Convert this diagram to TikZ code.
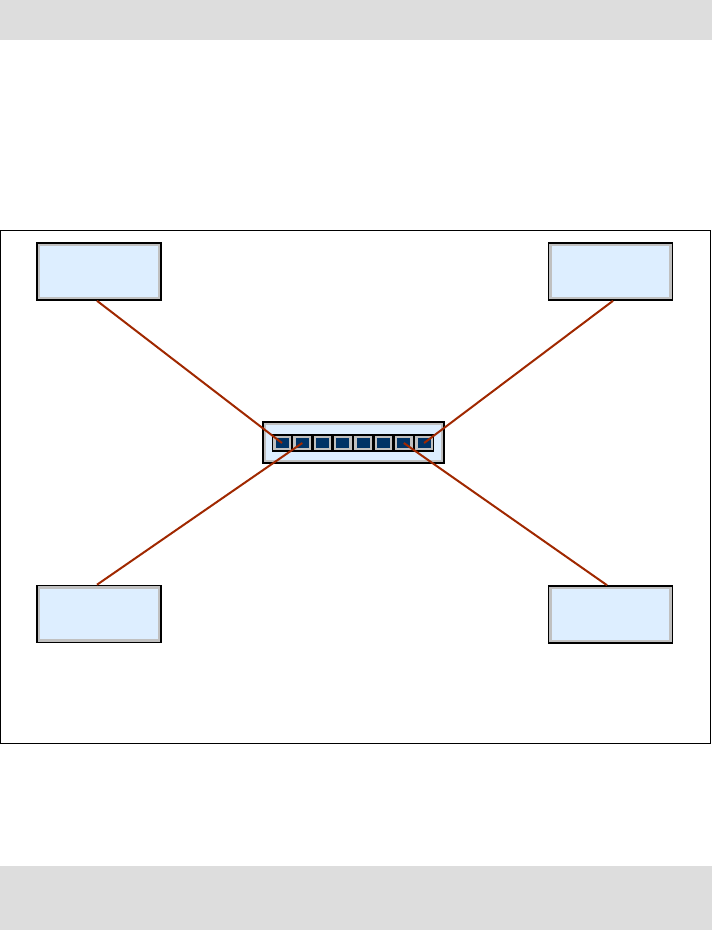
\documentclass[tikz,border=0pt]{standalone}
\begin{document}
\begin{tikzpicture}[x=1pt,y=-1pt,
  hostbox/.style={draw=black,line width=1.6pt,fill=rimgrey,minimum width=124pt,minimum height=57pt,inner sep=0pt,
    path picture={\fill[paleblue] ([shift={(3.2pt,-3.2pt)}]path picture bounding box.north west) rectangle ([shift={(-3.2pt,3.2pt)}]path picture bounding box.south east);}},
  switchbox/.style={draw=black,line width=1.6pt,fill=rimgrey,minimum width=181pt,minimum height=41pt,inner sep=0pt,
    path picture={\fill[paleblue] ([shift={(3.2pt,-3.2pt)}]path picture bounding box.north west) rectangle ([shift={(-3.2pt,3.2pt)}]path picture bounding box.south east);}},
  port/.style={draw=black,line width=1.3pt,fill=rimgrey,minimum width=19pt,minimum height=16pt,inner sep=0pt,
    path picture={\fill[portblue] ([shift={(3pt,-3pt)}]path picture bounding box.north west) rectangle ([shift={(-3pt,3pt)}]path picture bounding box.south east);}},
  link/.style={draw=linkred,line width=2pt}]
\definecolor{barcol}{HTML}{DDDDDD}
\definecolor{rimgrey}{HTML}{C0C0C0}
\definecolor{paleblue}{HTML}{DDEEFF}
\definecolor{portblue}{HTML}{003366}
\definecolor{linkred}{HTML}{A02800}
\useasboundingbox (0,0) rectangle (712,930);
\fill[barcol] (0,0) rectangle (712,40);
\fill[barcol] (0,866) rectangle (712,930);
\draw[black,line width=1pt] (0.5,230.5) rectangle (710,743);
\node[hostbox] (tl) at (99,271.5) {};
\node[hostbox] (tr) at (610.5,271.5) {};
\node[hostbox] (bl) at (99,614) {};
\node[hostbox] (br) at (610.5,614.5) {};
\node[switchbox] (sw) at (353.5,442.5) {};
\foreach \i in {1,...,8} {
  \node[port] (p\i) at ({282+(\i-1)*20.3},443) {};
}
\draw[link] ([xshift=-2pt]tl.south) -- (p1.center);
\draw[link] ([xshift=-2pt]bl.north) -- (p2.center);
\draw[link] ([xshift=-3.5pt]br.north) -- (p7.center);
\draw[link] ([xshift=2.5pt]tr.south) -- (p8.center);
\end{tikzpicture}
\end{document}
